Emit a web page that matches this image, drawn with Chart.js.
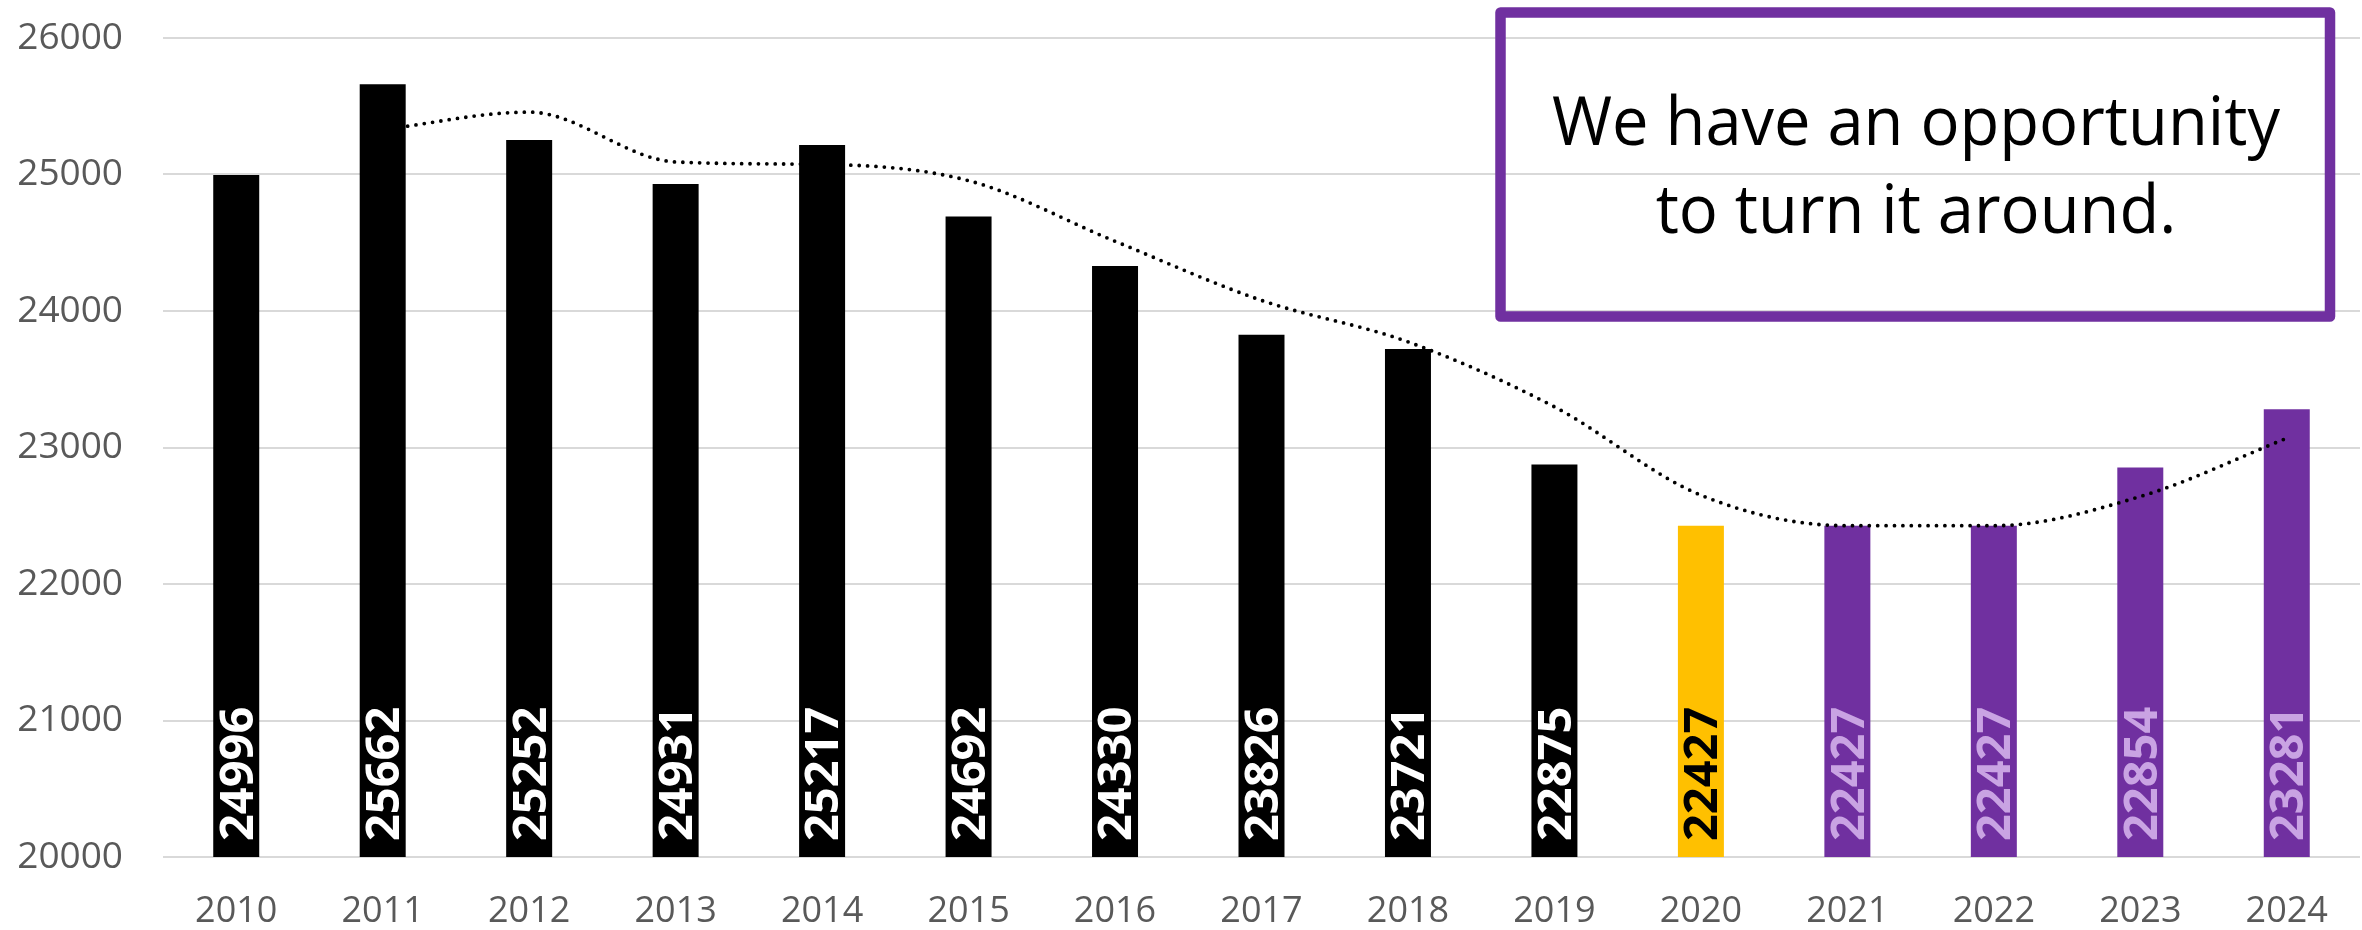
<!DOCTYPE html>
<html>
<head>
<meta charset="utf-8">
<script src="https://cdn.jsdelivr.net/npm/chart.js@4"></script>
<style>
  html, body { margin: 0; padding: 0; background: #ffffff; }
  #wrap { width: 2362px; height: 930px; }
</style>
</head>
<body>
<div id="wrap"><canvas id="chart" width="2362" height="930"></canvas></div>
<script>
// values
const years = ['2010', '2011', '2012', '2013', '2014', '2015', '2016', '2017',
	'2018', '2019', '2020', '2021', '2022', '2023', '2024'];
const counts = [24996, 25662, 25252, 24931, 25217, 24692, 24330, 23826,
	23721, 22875, 22427, 22427, 22427, 22854, 23281];
// dotted trend line (two period moving average in the original)
const trend = [null, 25329, 25457, 25092, 25074, 24955, 24511, 24078,
	23774, 23298, 22651, 22427, 22427, 22641, 23068];
const yTicks = [20000, 21000, 22000, 23000, 24000, 25000, 26000];
const noteLines = ['We have an opportunity', 'to turn it around.'];

const BLACK = '#000000', GOLD = '#FFC000', PURPLE = '#7030A0', LAVENDER = '#C9A3E3';
const barColor = years.map(y => +y < 2020 ? BLACK : (+y === 2020 ? GOLD : PURPLE));
const labelColor = years.map(y => +y < 2020 ? '#FFFFFF' : (+y === 2020 ? BLACK : LAVENDER));

// value labels, rotated, sitting at the foot of each bar
const barLabels = {
	id: 'barLabels',
	afterDraw(chart) {
		const ctx = chart.ctx;
		const xs = chart.scales.x, ys = chart.scales.y;
		const base = ys.getPixelForValue(ys.min);
		ctx.save();
		ctx.font = 'bold 47px "Open Sans"';
		ctx.textAlign = 'left';
		ctx.textBaseline = 'middle';
		counts.forEach((v, i) => {
			const x = xs.getPixelForValue(i);
			ctx.save();
			ctx.translate(x + 1, base - 16);
			ctx.rotate(-Math.PI / 2);
			ctx.fillStyle = labelColor[i];
			ctx.fillText(String(v), 0, 2);
			ctx.restore();
		});
		ctx.restore();
	}
};

const noteBox = {
	id: 'noteBox',
	afterDraw(chart) {
		const ctx = chart.ctx;
		ctx.save();
		ctx.strokeStyle = PURPLE;
		ctx.lineWidth = 10.5;
		ctx.lineJoin = 'round';
		ctx.strokeRect(1500.5, 12.5, 829.5, 304);
		ctx.fillStyle = '#000000';
		ctx.font = '67px "Open Sans"';
		ctx.textAlign = 'center';
		ctx.textBaseline = 'alphabetic';
		const w = ctx.measureText(noteLines[0]).width;
		ctx.translate(1916, 0);
		ctx.scale(728 / w, 1);
		ctx.fillText(noteLines[0], 0, 145);
		ctx.fillText(noteLines[1], 0, 233);
		ctx.restore();
	}
};

new Chart(document.getElementById('chart'), {
	data: {
		labels: years,
		datasets: [
			{
				type: 'bar',
				data: counts,
				backgroundColor: barColor,
				barPercentage: 0.314,
				categoryPercentage: 1,
				order: 2
			},
			{
				type: 'line',
				data: trend,
				borderColor: '#000000',
				borderWidth: 3.8,
				borderDash: [0, 8.4],
				borderCapStyle: 'round',
				pointRadius: 0,
				cubicInterpolationMode: 'monotone',
				fill: false,
				order: 1
			}
		]
	},
	options: {
		responsive: false,
		animation: false,
		devicePixelRatio: 1,
		layout: { padding: { top: 38, right: 2, left: 0, bottom: 0 } },
		plugins: {
			legend: { display: false },
			tooltip: { enabled: false }
		},
		scales: {
			x: {
				grid: { display: false, drawTicks: false },
				border: { display: false },
				ticks: {
					color: '#595959',
					font: { family: 'Open Sans', size: 36 },
					padding: 33,
					maxRotation: 0
				},
				afterFit(scale) { scale.height = 73; }
			},
			y: {
				min: 20000,
				max: 26000,
				afterBuildTicks(scale) { scale.ticks = yTicks.map(v => ({ value: v })); },
				grid: { color: '#D9D9D9', lineWidth: 2, drawTicks: false },
				border: { display: false },
				ticks: {
					color: '#595959',
					font: { family: 'Open Sans', size: 37 },
					padding: 40,
					callback: v => String(v)
				},
				afterFit(scale) {
					scale.width = 163;
					scale.paddingTop = 0;
					scale.paddingBottom = 0;
				}
			}
		}
	},
	plugins: [barLabels, noteBox]
});
</script>
</body>
</html>
